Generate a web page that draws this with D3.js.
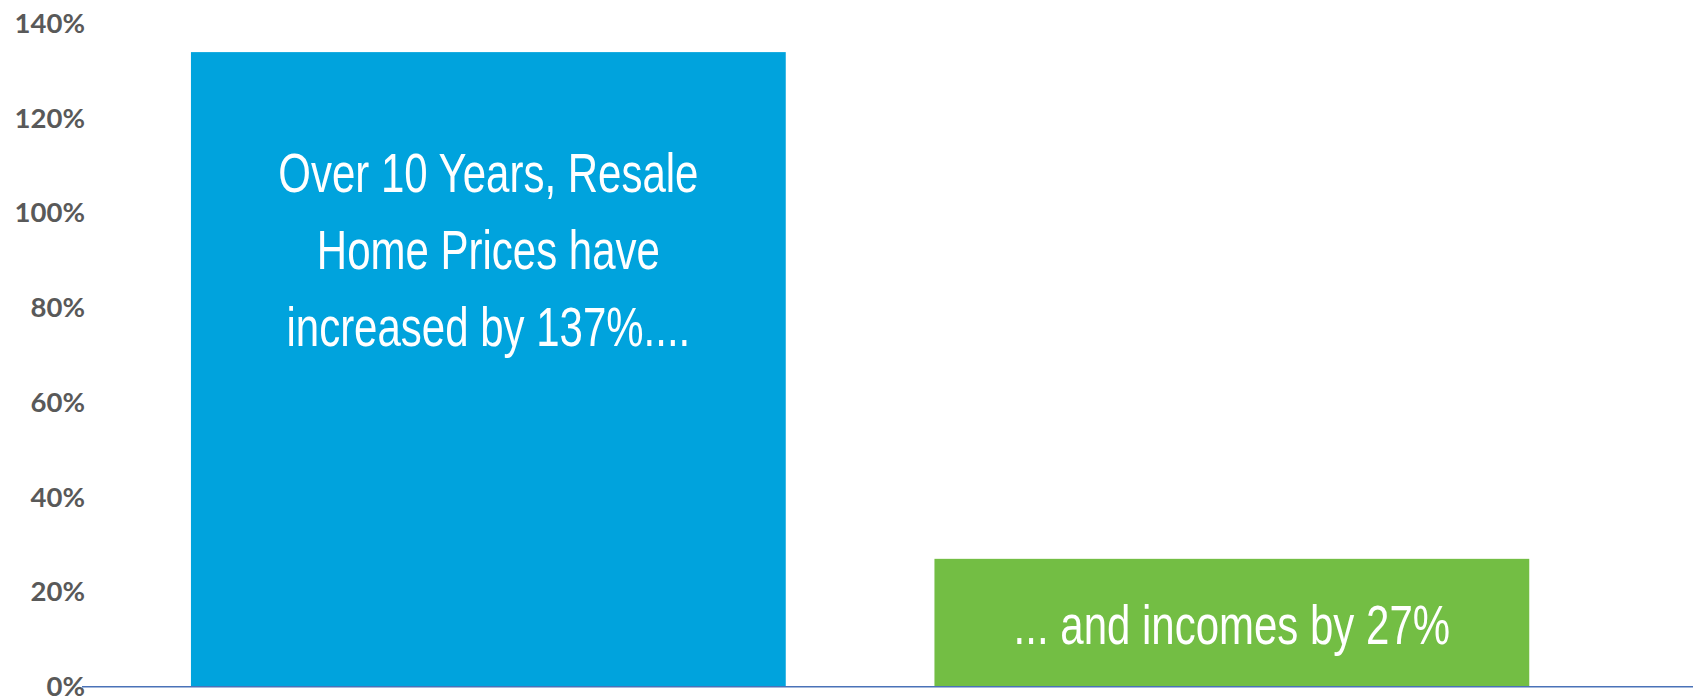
<!DOCTYPE html>
<html>
<head>
<meta charset="utf-8">
<script src="https://cdn.jsdelivr.net/npm/d3@7"></script>
<style>
  html, body { margin: 0; padding: 0; background: #fff; }
  .tick-label { font-family: Lato, "Liberation Sans", sans-serif; font-weight: 700; font-size: 27.5px; fill: #595959; }
  .bar-label { font-family: "Liberation Sans Narrow", "Liberation Sans", sans-serif; font-size: 56px; fill: #fff; }
</style>
</head>
<body>
<svg id="chart"></svg>
<script>
// datos
const categories = ["Resale Home Prices", "Incomes"];
const values = [134, 27];
const barColors = ["#00A3DD", "#73BE44"];
const barLabels = [
  ["Over 10 Years, Resale", "Home Prices have", "increased by 137%...."],
  ["... and incomes by 27%"]
];
const yTicks = [0, 20, 40, 60, 80, 100, 120, 140];

const width = 1693, height = 697;

const svg = d3.select("#chart")
  .attr("width", width)
  .attr("height", height);

const x = d3.scaleBand()
  .domain(categories)
  .range([116.6, 1603.6])
  .paddingInner(0.2)
  .paddingOuter(0.1);

const y = d3.scaleLinear()
  .domain([0, 140])
  .range([686.7, 23.7]);

// etiquetas del eje Y
svg.append("g")
  .selectAll("text")
  .data(yTicks)
  .join("text")
  .attr("class", "tick-label")
  .attr("x", 85)
  .attr("y", d => y(d))
  .attr("dy", "0.34em")
  .attr("text-anchor", "end")
  .text(d => d + "%");

// barras
svg.append("g")
  .selectAll("rect")
  .data(categories)
  .join("rect")
  .attr("x", d => x(d))
  .attr("y", (d, i) => y(values[i]))
  .attr("width", x.bandwidth())
  .attr("height", (d, i) => y(0) - y(values[i]))
  .attr("fill", (d, i) => barColors[i]);

// linea base
svg.append("line")
  .attr("x1", 82)
  .attr("x2", width)
  .attr("y1", y(0))
  .attr("y2", y(0))
  .attr("stroke", "#4A72B8")
  .attr("stroke-width", 1.5);

// textos dentro de las barras (fuente estrecha, comprimida en horizontal)
const squeeze = 0.75;
categories.forEach((c, i) => {
  const cx = x(c) + x.bandwidth() / 2;
  const lines = barLabels[i];
  const lineH = 77;
  let firstBaseline;
  if (lines.length > 1) {
    firstBaseline = y(values[i]) + 140;
  } else {
    firstBaseline = (y(values[i]) + y(0)) / 2 + 21;
  }
  const g = svg.append("g")
    .attr("transform", `translate(${cx},0) scale(${squeeze},1)`);
  g.selectAll("text")
    .data(lines)
    .join("text")
    .attr("class", "bar-label")
    .attr("x", 0)
    .attr("y", (d, j) => firstBaseline + j * lineH)
    .attr("text-anchor", "middle")
    .text(d => d);
});
</script>
</body>
</html>
